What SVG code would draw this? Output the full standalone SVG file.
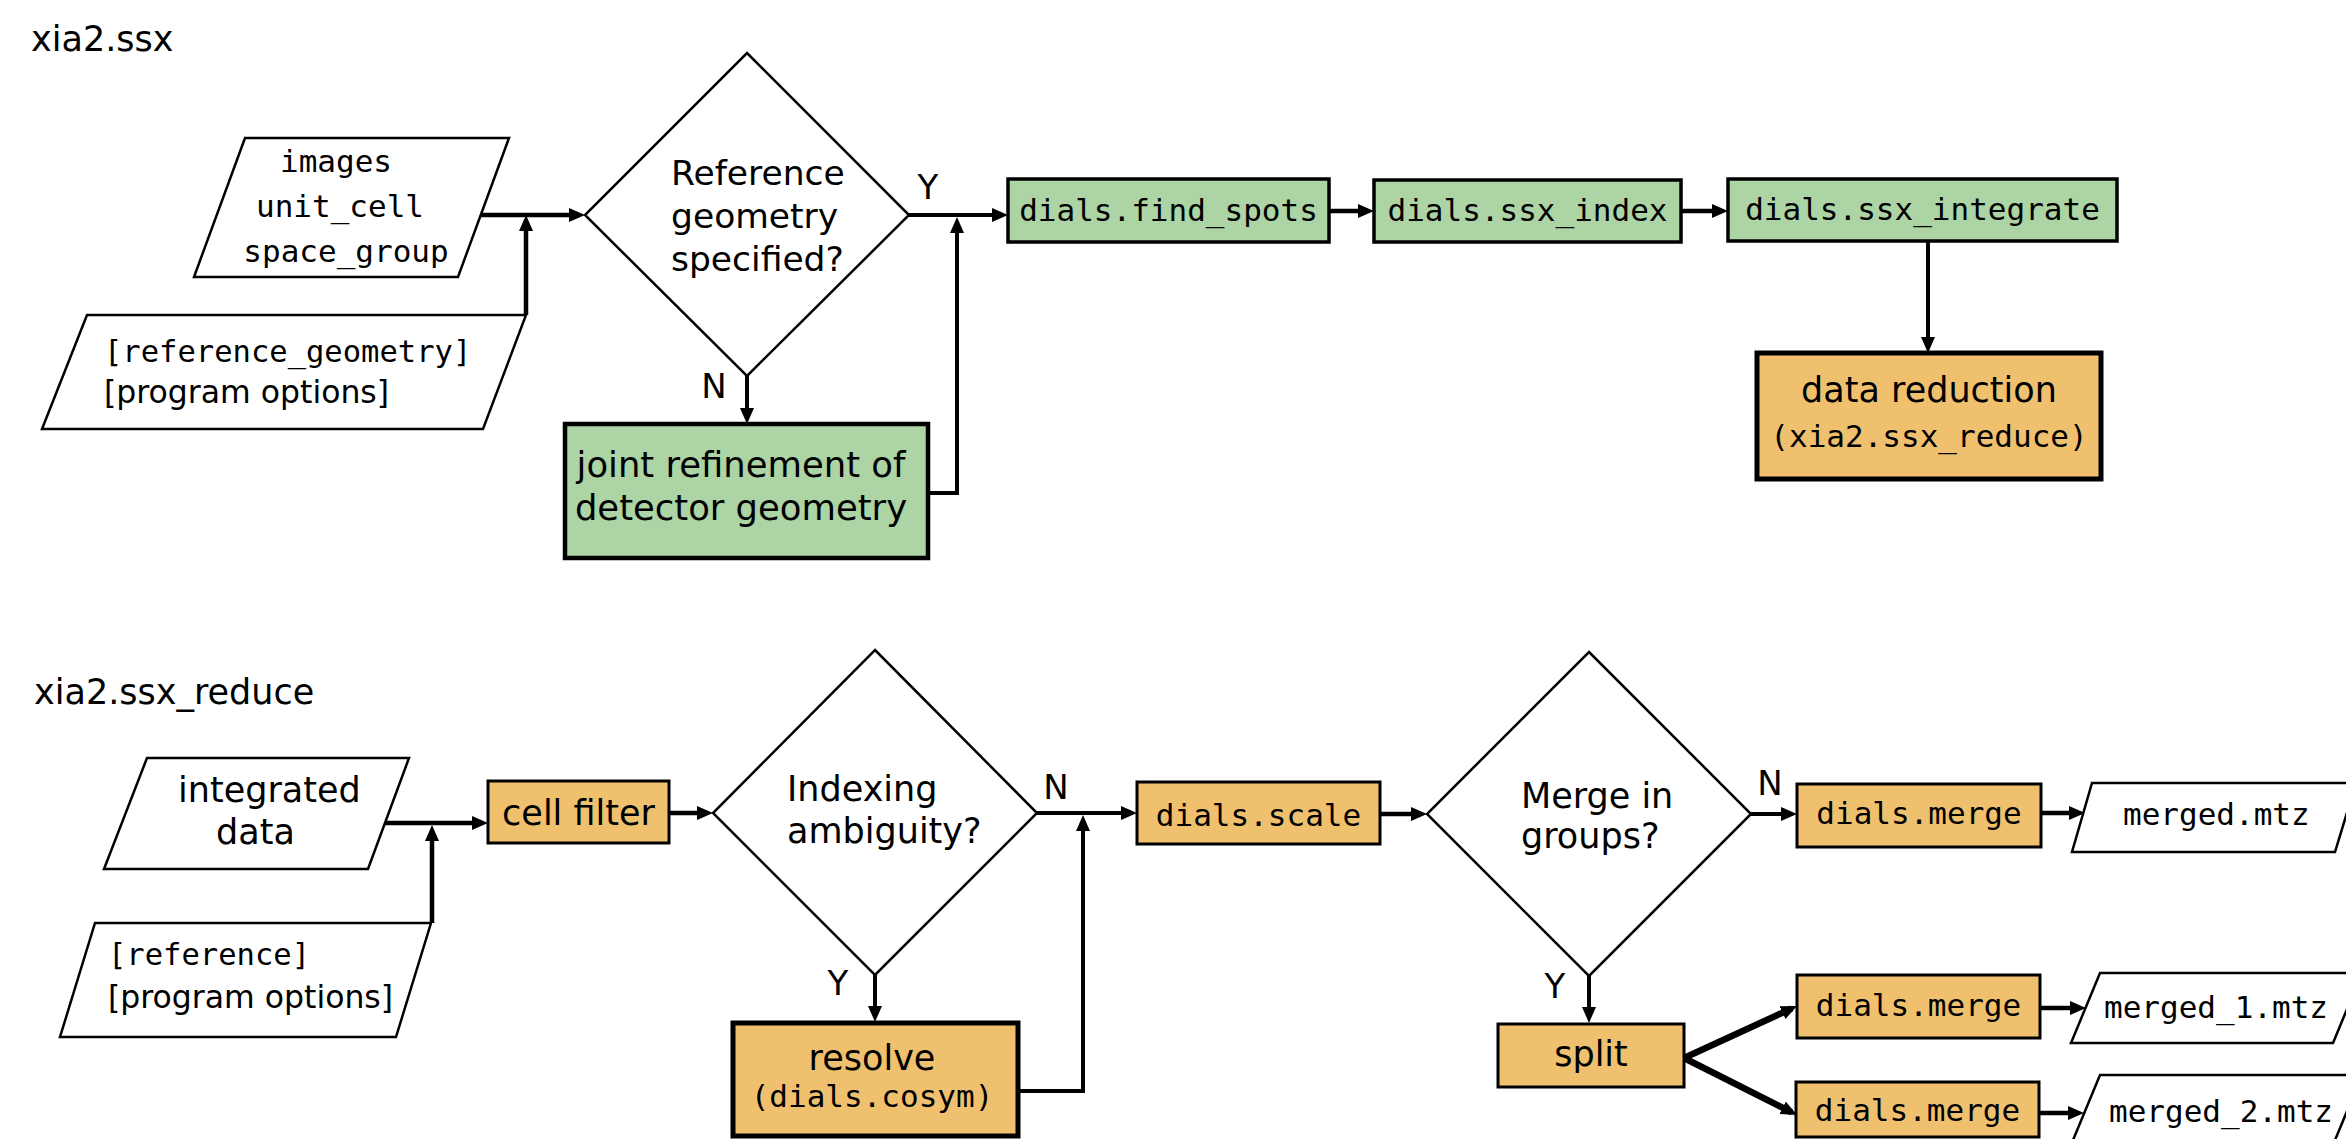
<svg xmlns="http://www.w3.org/2000/svg" width="2346" height="1139" viewBox="0 0 2346 1139">
  <style>
    .bg { fill: #ffffff; }
    .io { fill: #ffffff; stroke: #000; stroke-width: 2.5; stroke-linejoin: miter; }
    .dec { fill: #ffffff; stroke: #000; stroke-width: 2.5; }
    .green { fill: #acd4a4; stroke: #000; stroke-width: 3.5; }
    .green-b { fill: #acd4a4; stroke: #000; stroke-width: 4.5; }
    .orange { fill: #efc16f; stroke: #000; stroke-width: 3; }
    .orange-b { fill: #efc16f; stroke: #000; stroke-width: 5; }
    .sans { font-family: "DejaVu Sans", Verdana, sans-serif; fill: #000; }
    .mono { font-family: "DejaVu Sans Mono", "Liberation Mono", monospace; fill: #000; }
    .title { font-size: 35px; }
    .q { font-size: 34.5px; }
    .q2 { font-size: 35px; }
    .lbl { font-size: 34px; text-anchor: middle; }
    .cmd { font-size: 31px; text-anchor: middle; }
    .mid { text-anchor: middle; }
    .wire { fill: none; stroke: #000; stroke-width: 4; marker-end: url(#ah); }
    .wire-t { fill: none; stroke: #000; stroke-width: 4.5; marker-end: url(#ah); }
    .wire-x { fill: none; stroke: #000; stroke-width: 6.5; marker-end: url(#ah); }
  </style>
  <defs>
    <marker id="ah" markerUnits="userSpaceOnUse" markerWidth="16" markerHeight="14" refX="10" refY="7" orient="auto">
      <path d="M0,0 L16,7 L0,14 z" fill="#000"/>
    </marker>
  </defs>

  <rect class="bg" x="0" y="0" width="2346" height="1139"/>

  <!-- section titles -->
  <text class="sans title" x="31" y="51">xia2.ssx</text>
  <text class="sans title" x="34" y="704">xia2.ssx_reduce</text>

  <!-- connectors -->
  <g id="connectors">
    <!-- xia2.ssx -->
    <path class="wire-t" d="M480,215 H579"/>
    <path class="wire-t" d="M526,315 V221"/>
    <path class="wire" d="M909,215 H1002"/>
    <path class="wire" d="M747,376 V418"/>
    <path class="wire" d="M928,493 H957 V223"/>
    <path class="wire-t" d="M1329,211 H1368"/>
    <path class="wire-t" d="M1681,211 H1722"/>
    <path class="wire" d="M1928,241 V347"/>
    <!-- xia2.ssx_reduce -->
    <path class="wire-t" d="M385,823 H482"/>
    <path class="wire-t" d="M432,923 V831"/>
    <path class="wire-t" d="M669,813 H707"/>
    <path class="wire" d="M1037,813 H1131"/>
    <path class="wire" d="M875,974 V1016"/>
    <path class="wire" d="M1018,1091 H1083 V821"/>
    <path class="wire-t" d="M1380,814 H1421"/>
    <path class="wire" d="M1751,814 H1791"/>
    <path class="wire" d="M1589,975 V1017"/>
    <path class="wire-x" d="M1684,1058 L1791.6,1008.5"/>
    <path class="wire-x" d="M1684,1058 L1791.6,1112.3"/>
    <path class="wire-t" d="M2041,813 H2079"/>
    <path class="wire-t" d="M2040,1008 H2080"/>
    <path class="wire-t" d="M2039,1113 H2078"/>
  </g>

  <!-- xia2.ssx nodes -->
  <g id="ssx-inputs">
    <polygon class="io" points="245,138 509,138 458,277 194,277"/>
    <text class="mono cmd" x="336" y="172">images</text>
    <text class="mono cmd" x="340" y="217">unit_cell</text>
    <text class="mono cmd" x="346" y="262">space_group</text>
  </g>
  <g id="ssx-options">
    <polygon class="io" points="87,315 526,315 483,429 42,429"/>
    <text class="mono" font-size="30.5" x="104" y="362">[reference_geometry]</text>
    <text class="sans" font-size="31.5" x="104" y="403">[program options]</text>
  </g>
  <g id="ref-geometry-decision">
    <polygon class="dec" points="747,53 909,215 747,376 585,215"/>
    <text class="sans q" x="671" y="185">Reference</text>
    <text class="sans q" x="671" y="228">geometry</text>
    <text class="sans q" x="671" y="271">specified?</text>
    <text class="sans lbl" x="928" y="199">Y</text>
    <text class="sans lbl" x="714" y="398">N</text>
  </g>
  <g id="joint-refinement">
    <rect class="green-b" x="565" y="424" width="363" height="134"/>
    <text class="sans mid" font-size="35.4" x="741" y="477">joint refinement of</text>
    <text class="sans mid" font-size="35.4" x="741" y="520">detector geometry</text>
  </g>
  <g id="find-spots">
    <rect class="green" x="1008" y="179" width="321" height="63"/>
    <text class="mono cmd" x="1168.5" y="221">dials.find_spots</text>
  </g>
  <g id="ssx-index">
    <rect class="green" x="1374" y="180" width="307" height="62"/>
    <text class="mono cmd" x="1527.5" y="221">dials.ssx_index</text>
  </g>
  <g id="ssx-integrate">
    <rect class="green" x="1728" y="179" width="389" height="62"/>
    <text class="mono cmd" x="1922.5" y="220">dials.ssx_integrate</text>
  </g>
  <g id="data-reduction">
    <rect class="orange-b" x="1757" y="353" width="344" height="126"/>
    <text class="sans mid" font-size="35" x="1929" y="402">data reduction</text>
    <text class="mono cmd" x="1929" y="447">(xia2.ssx_reduce)</text>
  </g>

  <!-- xia2.ssx_reduce nodes -->
  <g id="reduce-inputs">
    <polygon class="io" points="147,758 409,758 368,869 104,869"/>
    <text class="sans" font-size="35" x="178" y="802">integrated</text>
    <text class="sans" font-size="35" x="216" y="844">data</text>
  </g>
  <g id="reduce-options">
    <polygon class="io" points="95,923 431,923 396,1037 60,1037"/>
    <text class="mono" font-size="30.5" x="108" y="965">[reference]</text>
    <text class="sans" font-size="31.5" x="108" y="1008">[program options]</text>
  </g>
  <g id="cell-filter">
    <rect class="orange" x="488" y="781" width="181" height="62"/>
    <text class="sans mid" font-size="35" x="578.5" y="825">cell filter</text>
  </g>
  <g id="ambiguity-decision">
    <polygon class="dec" points="875,650 1037,813 875,975 713,813"/>
    <text class="sans q2" x="787" y="801">Indexing</text>
    <text class="sans q2" x="787" y="843">ambiguity?</text>
    <text class="sans lbl" x="1056" y="799">N</text>
    <text class="sans lbl" x="838" y="995">Y</text>
  </g>
  <g id="resolve">
    <rect class="orange-b" x="733" y="1023" width="285" height="113"/>
    <text class="sans mid" font-size="35" x="872" y="1070">resolve</text>
    <text class="mono cmd" x="872" y="1107">(dials.cosym)</text>
  </g>
  <g id="scale">
    <rect class="orange" x="1137" y="782" width="243" height="62"/>
    <text class="mono cmd" x="1258.5" y="826">dials.scale</text>
  </g>
  <g id="groups-decision">
    <polygon class="dec" points="1589,652 1751,814 1589,976 1427,814"/>
    <text class="sans q2" x="1521" y="808">Merge in</text>
    <text class="sans q2" x="1521" y="848">groups?</text>
    <text class="sans lbl" x="1770" y="795">N</text>
    <text class="sans lbl" x="1555" y="998">Y</text>
  </g>
  <g id="split">
    <rect class="orange" x="1498" y="1024" width="186" height="63"/>
    <text class="sans mid" font-size="35" x="1591" y="1066">split</text>
  </g>
  <g id="merge">
    <rect class="orange" x="1797" y="784" width="244" height="63"/>
    <text class="mono cmd" x="1919" y="824">dials.merge</text>
  </g>
  <g id="merge-1">
    <rect class="orange" x="1797" y="975" width="243" height="63"/>
    <text class="mono cmd" x="1918.5" y="1016">dials.merge</text>
  </g>
  <g id="merge-2">
    <rect class="orange" x="1796" y="1082" width="243" height="55"/>
    <text class="mono cmd" x="1917.5" y="1121">dials.merge</text>
  </g>
  <g id="merged-mtz">
    <polygon class="io" points="2092,783 2356,783 2335,852 2072,852"/>
    <text class="mono" font-size="31" x="2123" y="825">merged.mtz</text>
  </g>
  <g id="merged-1-mtz">
    <polygon class="io" points="2100,973 2362,973 2333,1043 2071,1043"/>
    <text class="mono" font-size="31" x="2104" y="1018">merged_1.mtz</text>
  </g>
  <g id="merged-2-mtz">
    <polygon class="io" points="2100,1075 2362,1075 2333,1145 2071,1145"/>
    <text class="mono" font-size="31" x="2109" y="1122">merged_2.mtz</text>
  </g>
</svg>
